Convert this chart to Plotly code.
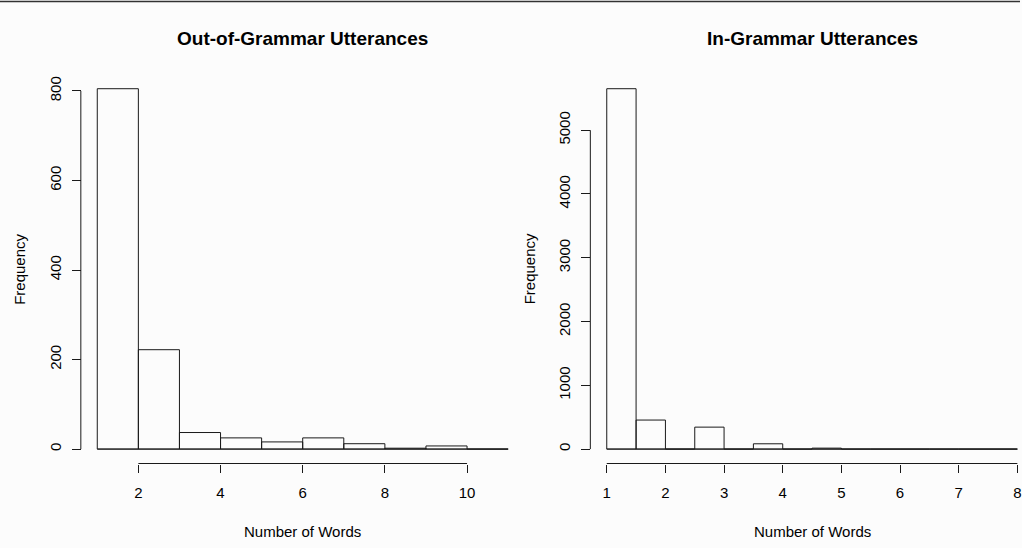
import plotly.graph_objects as go

# ---- data ---------------------------------------------------------------
# Out-of-grammar utterances: unit-width bins on the number of words
oog_edges = [1, 2, 3, 4, 5, 6, 7, 8, 9, 10, 11]
oog_counts = [805, 222, 37, 25, 16, 25, 12, 2, 7, 0]
oog_xticks = [2, 4, 6, 8, 10]
oog_yticks = [0, 200, 400, 600, 800]

# In-grammar utterances: half-unit bins on the number of words
ig_edges = [1, 1.5, 2, 2.5, 3, 3.5, 4, 4.5, 5, 5.5, 6, 6.5, 7, 7.5, 8]
ig_counts = [5650, 455, 0, 344, 0, 83, 0, 15, 0, 0, 0, 0, 0, 0]
ig_xticks = [1, 2, 3, 4, 5, 6, 7, 8]
ig_yticks = [0, 1000, 2000, 3000, 4000, 5000]

titles = ["Out-of-Grammar Utterances", "In-Grammar Utterances"]
x_title = "Number of Words"
y_title = "Frequency"

# ---- page geometry (pixels) --------------------------------------------
W, H = 1022, 548
REGION_TOP, REGION_BOTTOM = 74.3, 463.5
REGIONS = [(81.0, 525.6), (591.5, 1035.8)]

INK = "#1a1a1a"
BG = "#fcfcfc"
FONT = "Liberation Sans, Arial, Helvetica, sans-serif"


def px_x(p):
    return p / W


def px_y(p):
    return 1 - p / H


fig = go.Figure()
layout = dict(
    width=W, height=H,
    margin=dict(l=0, r=0, t=0, b=0),
    paper_bgcolor=BG, plot_bgcolor=BG,
    showlegend=False,
    barmode="overlay",
    font=dict(family=FONT, color="#000000"),
)
shapes = []
annotations = []

panels = [
    (oog_edges, oog_counts, oog_xticks, oog_yticks),
    (ig_edges, ig_counts, ig_xticks, ig_yticks),
]

for i, (edges, counts, xticks, yticks) in enumerate(panels):
    sfx = "" if i == 0 else str(i + 1)
    xa, ya = "x" + sfx, "y" + sfx
    left_px, right_px = REGIONS[i]

    # R-style 4% padding around the data range
    span = edges[-1] - edges[0]
    x_lo = edges[0] - 0.04 * span
    x_hi = edges[-1] + 0.04 * span
    ymax = max(counts)
    y_lo, y_hi = -0.04 * ymax, 1.04 * ymax

    # the right-hand panel runs past the page edge; clip its domain there
    dom_right_px = min(right_px, W)
    x_hi_vis = x_lo + (dom_right_px - left_px) / (right_px - left_px) * (x_hi - x_lo)

    centers = [(a + b) / 2 for a, b in zip(edges[:-1], edges[1:])]
    widths = [b - a for a, b in zip(edges[:-1], edges[1:])]

    fig.add_trace(go.Bar(
        x=centers, y=counts, width=widths,
        marker=dict(color="rgba(0,0,0,0)", line=dict(color=INK, width=1)),
        xaxis=xa, yaxis=ya, hoverinfo="x+y",
    ))
    # zero-count bins collapse onto the baseline
    fig.add_trace(go.Scatter(
        x=[edges[0], edges[-1]], y=[0, 0], mode="lines",
        line=dict(color=INK, width=1), xaxis=xa, yaxis=ya, hoverinfo="skip",
    ))

    x_pos = px_y(REGION_BOTTOM)
    y_pos = px_x(left_px)
    tickfont = dict(family=FONT, size=15, color="#000000")

    layout["xaxis" + sfx] = dict(
        domain=[px_x(left_px), px_x(dom_right_px)],
        range=[x_lo, x_hi_vis],
        anchor="free", position=x_pos,
        showline=False, showgrid=False, zeroline=False,
        ticks="outside", ticklen=8, tickwidth=1, tickcolor=INK,
        tickvals=xticks, ticktext=[str(v) for v in xticks],
        tickfont=tickfont, ticklabelstandoff=7,
        ticklabeloverflow="allow",
        fixedrange=True,
    )
    layout["yaxis" + sfx] = dict(
        domain=[px_y(REGION_BOTTOM), px_y(REGION_TOP)],
        range=[y_lo, y_hi],
        anchor="free", position=y_pos,
        showline=False, showgrid=False, zeroline=False,
        ticks="outside", ticklen=9, tickwidth=1, tickcolor=INK,
        tickvals=yticks, ticktext=[str(v) for v in yticks],
        tickangle=-90,
        tickfont=tickfont, ticklabelstandoff=5,
        ticklabeloverflow="allow",
        fixedrange=True,
    )

    # detached axis lines spanning only the tick range
    shapes.append(dict(type="line", xref=xa, yref="paper",
                       x0=xticks[0], x1=xticks[-1], y0=x_pos, y1=x_pos,
                       line=dict(color=INK, width=1)))
    shapes.append(dict(type="line", xref="paper", yref=ya,
                       x0=y_pos, x1=y_pos, y0=yticks[0], y1=yticks[-1],
                       line=dict(color=INK, width=1)))

    mid_x = px_x((left_px + right_px) / 2)
    annotations.append(dict(
        text="<b>%s</b>" % titles[i], x=mid_x, y=px_y(38.5),
        xref="paper", yref="paper", xanchor="center", yanchor="middle",
        showarrow=False, font=dict(family=FONT, size=19, color="#000000"),
    ))
    annotations.append(dict(
        text=x_title, x=mid_x, y=px_y(531),
        xref="paper", yref="paper", xanchor="center", yanchor="middle",
        showarrow=False, font=dict(family=FONT, size=15, color="#000000"),
    ))
    annotations.append(dict(
        text=y_title, x=px_x(left_px - 61), y=px_y((REGION_TOP + REGION_BOTTOM) / 2),
        xref="paper", yref="paper", xanchor="center", yanchor="middle",
        textangle=-90, showarrow=False,
        font=dict(family=FONT, size=15, color="#000000"),
    ))

# thin rule along the top edge of the page
shapes.append(dict(type="line", xref="paper", yref="paper",
                   x0=0, x1=1, y0=px_y(1.5), y1=px_y(1.5),
                   line=dict(color="#333333", width=1.5)))

layout["shapes"] = shapes
layout["annotations"] = annotations
fig.update_layout(**layout)

fig.write_html("out.html")
